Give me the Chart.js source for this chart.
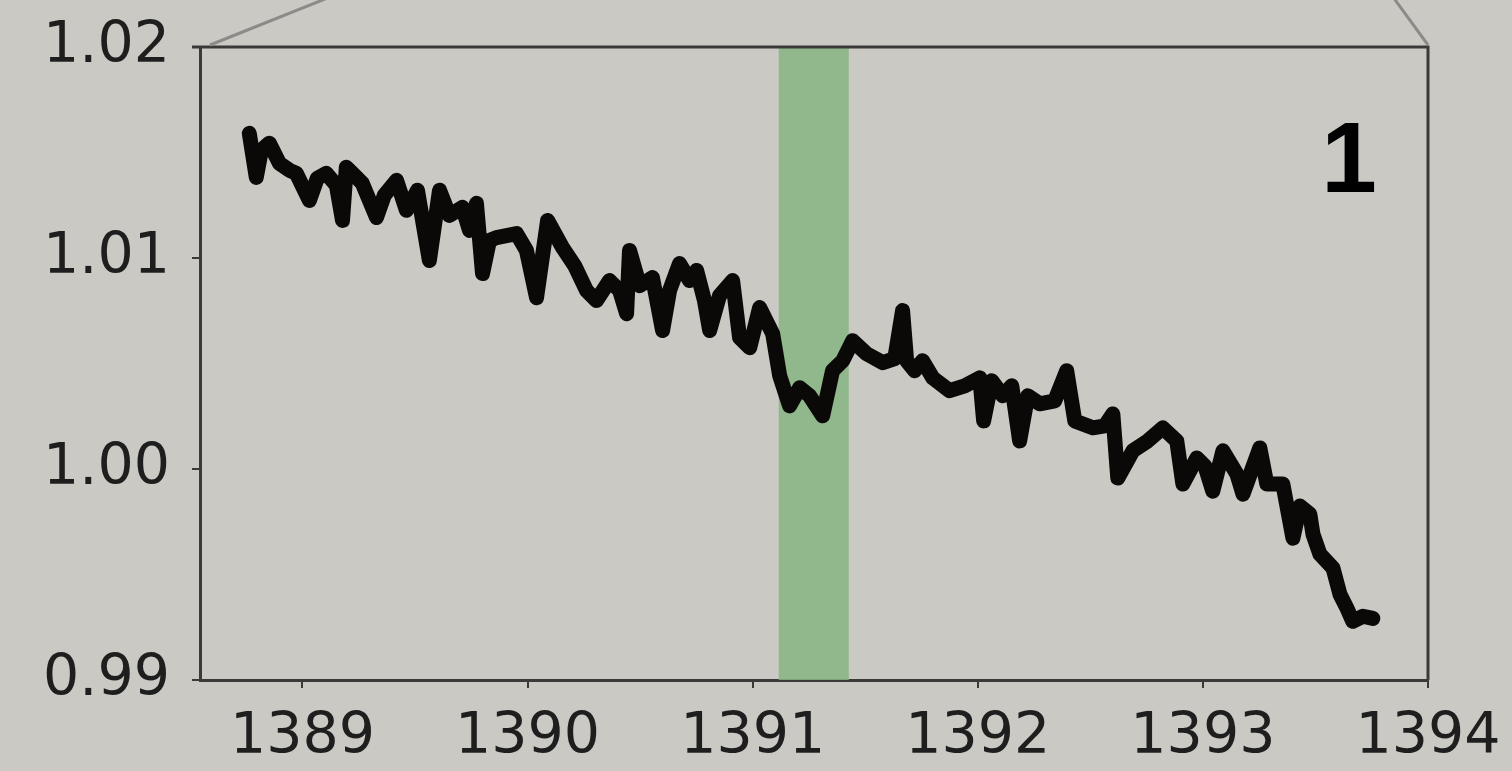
<!DOCTYPE html>
<html>
<head>
<meta charset="utf-8">
<script src="https://cdn.jsdelivr.net/npm/chart.js@4"></script>
<style>
  html, body { margin: 0; padding: 0; background: #cbc9c4; }
  #wrap { width: 1512px; height: 771px; position: relative; }
</style>
</head>
<body>
<div id="wrap"><canvas id="lcChart"></canvas></div>
<script>
// time (days) and relative flux
const times = [
  1388.764, 1388.795, 1388.818, 1388.853, 1388.898, 1388.942, 1388.973, 1389.031, 1389.066, 1389.106,
  1389.151, 1389.178, 1389.195, 1389.231, 1389.266, 1389.329, 1389.364, 1389.418, 1389.462, 1389.511,
  1389.564, 1389.609, 1389.653, 1389.711, 1389.742, 1389.773, 1389.800, 1389.831, 1389.862, 1389.951,
  1389.995, 1390.040, 1390.089, 1390.155, 1390.209, 1390.262, 1390.306, 1390.364, 1390.409, 1390.440,
  1390.453, 1390.498, 1390.555, 1390.600, 1390.631, 1390.675, 1390.720, 1390.751, 1390.786, 1390.809,
  1390.853, 1390.911, 1390.942, 1390.987, 1391.031, 1391.089, 1391.120, 1391.164, 1391.209, 1391.253,
  1391.311, 1391.355, 1391.400, 1391.444, 1391.506, 1391.578, 1391.631, 1391.666, 1391.684, 1391.720,
  1391.755, 1391.800, 1391.875, 1391.942, 1392.009, 1392.026, 1392.062, 1392.111, 1392.151, 1392.186,
  1392.222, 1392.275, 1392.342, 1392.395, 1392.431, 1392.511, 1392.564, 1392.600, 1392.622, 1392.689,
  1392.755, 1392.822, 1392.884, 1392.911, 1392.973, 1393.009, 1393.044, 1393.089, 1393.151, 1393.178,
  1393.253, 1393.284, 1393.355, 1393.400, 1393.431, 1393.475, 1393.489, 1393.520, 1393.578, 1393.609,
  1393.640, 1393.666, 1393.711, 1393.755
];
const flux = [
  1.01591, 1.01382, 1.01511, 1.01544, 1.01449, 1.01416, 1.01401, 1.01273, 1.01378, 1.01401,
  1.01344, 1.01178, 1.01430, 1.01392, 1.01354, 1.01192, 1.01297, 1.01368, 1.01226, 1.01321,
  1.00988, 1.01321, 1.01202, 1.01240, 1.01131, 1.01259, 1.00926, 1.01083, 1.01097, 1.01116,
  1.01036, 1.00812, 1.01178, 1.01050, 1.00964, 1.00846, 1.00798, 1.00893, 1.00846, 1.00736,
  1.01036, 1.00869, 1.00907, 1.00656, 1.00846, 1.00974, 1.00893, 1.00941, 1.00798, 1.00656,
  1.00822, 1.00893, 1.00622, 1.00575, 1.00765, 1.00641, 1.00442, 1.00299, 1.00385, 1.00347,
  1.00252, 1.00466, 1.00513, 1.00608, 1.00546, 1.00504, 1.00523, 1.00751, 1.00513, 1.00466,
  1.00513, 1.00432, 1.00371, 1.00394, 1.00432, 1.00228, 1.00418, 1.00347, 1.00394, 1.00133,
  1.00347, 1.00309, 1.00323, 1.00466, 1.00228, 1.00195, 1.00204, 1.00261, 0.99957, 1.00086,
  1.00133, 1.00195, 1.00133, 0.99929, 1.00052, 1.00014, 0.99895, 1.00086, 0.99976, 0.99881,
  1.00100, 0.99929, 0.99929, 0.99672, 0.99824, 0.99786, 0.99691, 0.99596, 0.99530, 0.99406,
  0.99340, 0.99278, 0.99302, 0.99292
];

// shaded interval (green band)
const bandStart = 1391.116;
const bandEnd = 1391.427;

const xTicks = [1389, 1390, 1391, 1392, 1393, 1394];
const yTicks = [0.99, 1.00, 1.01, 1.02];
const panelLabel = '1';

const axisColor = '#3b3a38';

// green band + frame + zoom connector lines + panel label
const decorPlugin = {
  id: 'decor',
  beforeDatasetsDraw(chart) {
    const { ctx, chartArea, scales } = chart;
    const x0 = scales.x.getPixelForValue(bandStart);
    const x1 = scales.x.getPixelForValue(bandEnd);
    ctx.save();
    ctx.fillStyle = 'rgba(135, 180, 130, 0.85)';
    ctx.fillRect(x0, chartArea.top, x1 - x0, chartArea.bottom - chartArea.top);
    ctx.restore();
  },
  afterDraw(chart) {
    const { ctx, chartArea } = chart;
    ctx.save();
    // top and right frame lines
    ctx.strokeStyle = axisColor;
    ctx.lineWidth = 3;
    ctx.beginPath();
    ctx.moveTo(chartArea.left - 8, chartArea.top);
    ctx.lineTo(chartArea.right, chartArea.top);
    ctx.lineTo(chartArea.right, chartArea.bottom);
    ctx.stroke();
    // connector lines from the zoomed panel
    ctx.strokeStyle = '#8d8b87';
    ctx.lineWidth = 3;
    ctx.beginPath();
    ctx.moveTo(chartArea.left + 10, chartArea.top - 2);
    ctx.lineTo(chartArea.left + 130, chartArea.top - 50);
    ctx.moveTo(chartArea.right, chartArea.top - 2);
    ctx.lineTo(chartArea.right - 35, chartArea.top - 50);
    ctx.stroke();
    // panel number
    ctx.fillStyle = '#000';
    ctx.font = 'bold 100px "Liberation Sans", Arial, sans-serif';
    ctx.textAlign = 'center';
    ctx.textBaseline = 'alphabetic';
    ctx.fillText(panelLabel, chartArea.right - 79, chartArea.top + 145);
    ctx.restore();
  }
};

new Chart(document.getElementById('lcChart'), {
  type: 'line',
  data: {
    datasets: [{
      data: times.map((t, i) => ({ x: t, y: flux[i] })),
      borderColor: '#0b0908',
      borderWidth: 15,
      borderJoinStyle: 'round',
      borderCapStyle: 'round',
      pointRadius: 0,
      tension: 0,
      fill: false
    }]
  },
  options: {
    responsive: true,
    maintainAspectRatio: false,
    animation: false,
    layout: { padding: { top: 47, right: 84, left: 0, bottom: 0 } },
    plugins: {
      legend: { display: false },
      tooltip: { enabled: false }
    },
    scales: {
      x: {
        type: 'linear',
        min: 1388.545,
        max: 1394,
        afterBuildTicks: scale => { scale.ticks = xTicks.map(v => ({ value: v })); },
        afterFit: scale => { scale.height = 91; scale.paddingLeft = 0; scale.paddingRight = 0; },
        border: { display: true, color: axisColor, width: 3 },
        grid: { drawOnChartArea: false, drawTicks: true, tickLength: 8, color: axisColor, lineWidth: 2 },
        ticks: {
          color: '#1e1e1e',
          padding: 16,
          font: { family: '"DejaVu Sans", sans-serif', size: 57 },
          callback: v => String(v)
        }
      },
      y: {
        min: 0.99,
        max: 1.02,
        afterBuildTicks: scale => { scale.ticks = yTicks.map(v => ({ value: v })); },
        afterFit: scale => { scale.width = 200; scale.paddingTop = 0; scale.paddingBottom = 0; },
        border: { display: true, color: axisColor, width: 3 },
        grid: { drawOnChartArea: false, drawTicks: true, tickLength: 8, color: axisColor, lineWidth: 2 },
        ticks: {
          color: '#1e1e1e',
          padding: 22,
          font: { family: '"DejaVu Sans", sans-serif', size: 57 },
          callback: v => v.toFixed(2)
        }
      }
    }
  },
  plugins: [decorPlugin]
});
</script>
</body>
</html>
